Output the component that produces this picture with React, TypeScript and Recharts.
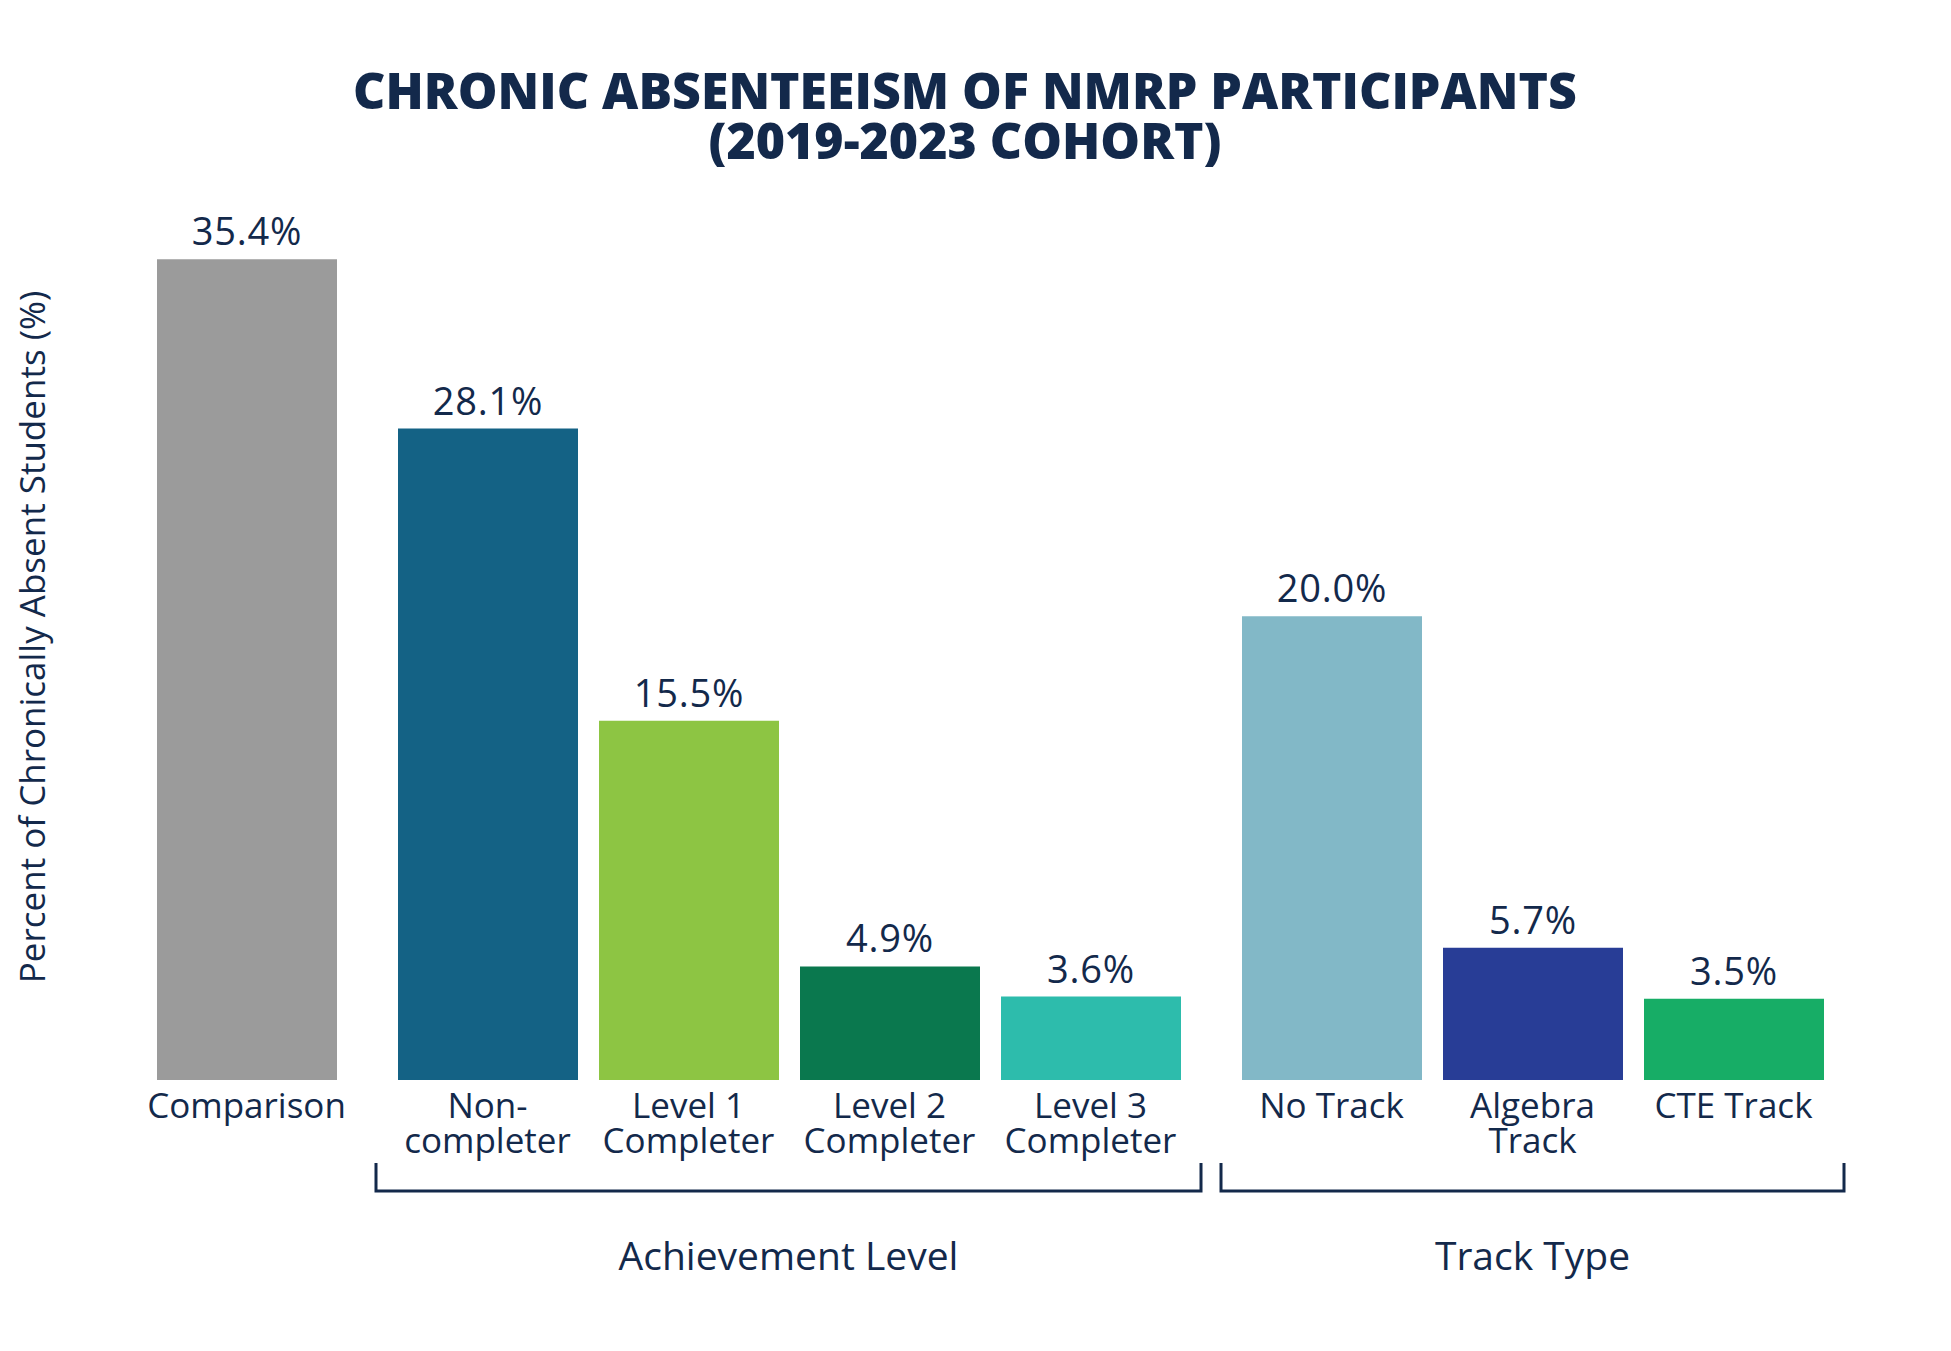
import { BarChart, Bar, XAxis, YAxis, Cell, LabelList } from 'recharts';

// Chronic absenteeism rates (%), split into three panels
const comparisonNames = ['Comparison'];
const comparisonValues = [35.4];
const comparisonColors = ['#9b9b9b'];

const achievementNames = ['Non-\ncompleter', 'Level 1\nCompleter', 'Level 2\nCompleter', 'Level 3\nCompleter'];
const achievementValues = [28.1, 15.5, 4.9, 3.6];
const achievementColors = ['#146285', '#8dc543', '#0a784e', '#2dbcac'];

const trackNames = ['No Track', 'Algebra\nTrack', 'CTE Track'];
const trackValues = [20.0, 5.7, 3.5];
const trackColors = ['#82b8c7', '#283d96', '#17ad66'];

const groupTitles = ['Achievement Level', 'Track Type'];

const NAVY = '#13294b';
const FONT = '"Open Sans", sans-serif';
const W = 1951;
const H = 1351;
const SLOT = 201;
const BAR = 180;
const PLOT_TOP = 152.7;
const PLOT_BOTTOM = 1080;
const AXIS_H = 100;

const CategoryTick = (props: any) => {
  const { x, y, payload } = props;
  const lines = String(payload.value).split('\n');
  return (
    <text x={x} y={y} textAnchor="middle" fill={NAVY} fontFamily={FONT} fontSize={35}>
      {lines.map((line, i) => (
        <tspan key={i} x={x} y={y + 38 + i * 35}>
          {line}
        </tspan>
      ))}
    </text>
  );
};

type PanelProps = { names: string[]; values: number[]; colors: string[]; left: number };

const Panel = ({ names, values, colors, left }: PanelProps) => {
  const data = names.map((name, i) => ({ name, value: values[i] }));
  return (
    <div style={{ position: 'absolute', left, top: 0 }}>
      <BarChart
        width={names.length * SLOT}
        height={H}
        data={data}
        margin={{ top: PLOT_TOP, right: 0, bottom: H - PLOT_BOTTOM - AXIS_H, left: 0 }}
        barCategoryGap={0}
      >
        <XAxis
          dataKey="name"
          axisLine={false}
          tickLine={false}
          tickSize={0}
          tickMargin={0}
          height={AXIS_H}
          interval={0}
          tick={<CategoryTick />}
        />
        <YAxis hide domain={[0, 40]} />
        <Bar dataKey="value" barSize={BAR} isAnimationActive={false}>
          {data.map((d, i) => (
            <Cell key={d.name} fill={colors[i]} />
          ))}
          <LabelList
            dataKey="value"
            position="top"
            offset={14}
            fill={NAVY}
            fontFamily={FONT}
            fontSize={38}
            letterSpacing={0.8}
            formatter={(v: any) => `${Number(v).toFixed(1)}%`}
          />
        </Bar>
      </BarChart>
    </div>
  );
};

const Bracket = ({ x1, x2, label }: { x1: number; x2: number; label: string }) => (
  <g>
    <path d={`M${x1},1163 V1191 H${x2} V1163`} fill="none" stroke={NAVY} strokeWidth={3} />
    <text x={(x1 + x2) / 2} y={1270} textAnchor="middle" fill={NAVY} fontFamily={FONT} fontSize={39}>
      {label}
    </text>
  </g>
);

export default function App() {
  const achLeft = 387;
  const trackLeft = 1231;
  return (
    <div style={{ position: 'absolute', left: 0, top: 0, width: W, height: H, background: '#fff' }}>
      <Panel names={comparisonNames} values={comparisonValues} colors={comparisonColors} left={145.7} />
      <Panel names={achievementNames} values={achievementValues} colors={achievementColors} left={achLeft} />
      <Panel names={trackNames} values={trackValues} colors={trackColors} left={trackLeft} />
      <svg width={W} height={H} style={{ position: 'absolute', left: 0, top: 0, pointerEvents: 'none' }}>
        <text textAnchor="middle" fill={NAVY} fontFamily={FONT} fontWeight={800} fontSize={50}>
          <tspan x={965} y={109}>CHRONIC ABSENTEEISM OF NMRP PARTICIPANTS</tspan>
          <tspan x={965} y={159}>(2019-2023 COHORT)</tspan>
        </text>
        <text
          transform="translate(45,637) rotate(-90)"
          textAnchor="middle"
          fill={NAVY}
          fontFamily={FONT}
          fontSize={35}
        >
          Percent of Chronically Absent Students (%)
        </text>
        <Bracket x1={achLeft - 11} x2={achLeft + achievementNames.length * SLOT + 10} label={groupTitles[0]} />
        <Bracket x1={trackLeft - 10} x2={trackLeft + trackNames.length * SLOT + 10} label={groupTitles[1]} />
      </svg>
    </div>
  );
}
